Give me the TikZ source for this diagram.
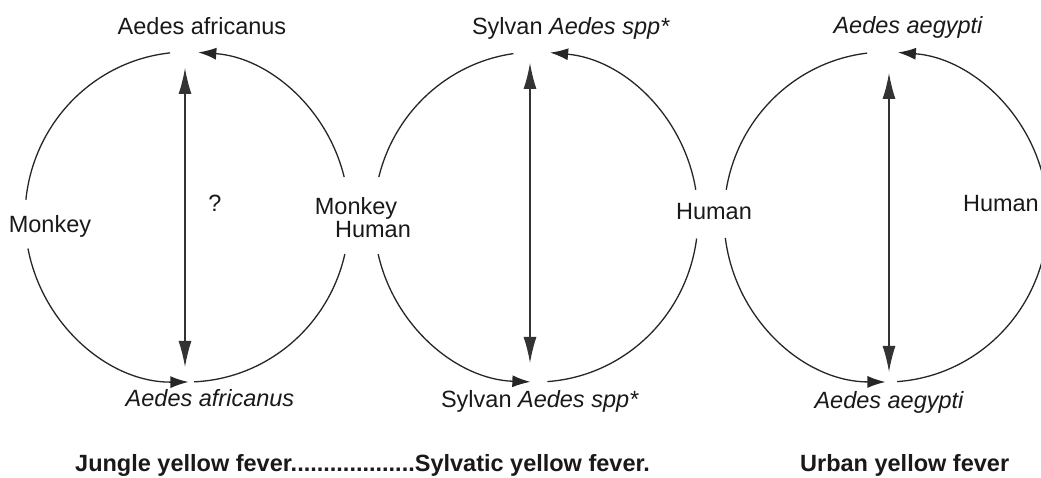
\documentclass[tikz,border=0pt]{standalone}
\usepackage{fontspec}
\setmainfont{Liberation Sans}
\usetikzlibrary{arrows.meta}
\tikzset{
  lbl/.style={inner sep=0pt, text=black!90, font=\fontsize{23.5}{28}\selectfont, anchor=base},
  ttl/.style={inner sep=0pt, text=black!90, font=\fontsize{23.5}{28}\selectfont\bfseries, anchor=base west},
  arcline/.style={line width=1.3pt, draw=black!85},
  arcarrow/.style={arcline, -{Latex[length=18pt,width=12pt]}},
  vert/.style={line width=1.3pt, draw=black!80, {Latex[length=26pt,width=13pt]}-{Latex[length=26pt,width=13pt]}},
  ell/.style={x radius=162pt, y radius=165pt}
}
\begin{document}
\begin{tikzpicture}[x=1pt,y=1pt]
\useasboundingbox (0,0) rectangle (1041,478);
\clip (0,0) rectangle (1041,478);

% circle centres
\coordinate (c1) at (187,261);
\coordinate (c2) at (536,261);
\coordinate (c3) at (886,261);

% labels
\node[lbl] (a1t) at (202,443) {Aedes africanus};
\node[lbl] (a1b) at (210,71) {\itshape Aedes africanus};
\node[lbl] (q1) at (215,266) {?};
\node[lbl] (mk1) at (50,245) {Monkey};
\node[lbl] (mk2) at (356,263) {Monkey};
\node[lbl] (hu2) at (373,240) {Human};
\node[lbl] (hu3) at (714,258) {Human};
\node[lbl,anchor=base east] (hu4) at (1039,266) {Human};
\node[lbl] (a2t) at (571,443) {Sylvan \textit{Aedes spp*}};
\node[lbl] (a2b) at (540,70) {Sylvan \textit{Aedes spp*}};
\node[lbl] (a3t) at (908,444) {\itshape Aedes aegypti};
\node[lbl] (a3b) at (889,69) {\itshape Aedes aegypti};
\node[ttl] (t1) at (75,6) {Jungle yellow fever...................Sylvatic yellow fever.};
\node[ttl] (t3) at (800,6) {Urban yellow fever};

% circle 1
\draw[arcline] (c1) ++(174:162pt and 165pt) arc[start angle=174,end angle=96,ell];
\draw[arcarrow] (c1) ++(14:162pt and 165pt) arc[start angle=14,end angle=86,ell];
\draw[arcarrow] (c1) ++(191:162pt and 165pt) arc[start angle=191,end angle=270.5,ell];
\draw[arcline] (c1) ++(272.5:162pt and 165pt) arc[start angle=272.5,end angle=347,ell];

% circle 2
\draw[arcline] (c2) ++(166:162pt and 165pt) arc[start angle=166,end angle=98,ell];
\draw[arcarrow] (c2) ++(9.5:162pt and 165pt) arc[start angle=9.5,end angle=85,ell];
\draw[arcarrow] (c2) ++(193:162pt and 165pt) arc[start angle=193,end angle=268,ell];
\draw[arcline] (c2) ++(274:162pt and 165pt) arc[start angle=274,end angle=352.5,ell];

% circle 3
\draw[arcline] (c3) ++(170.5:162pt and 165pt) arc[start angle=170.5,end angle=96.7,ell];
\draw[arcarrow] (c3) ++(14:162pt and 165pt) arc[start angle=14,end angle=85.8,ell];
\draw[arcarrow] (c3) ++(187.3:162pt and 165pt) arc[start angle=187.3,end angle=269.8,ell];
\draw[arcline] (c3) ++(273.9:162pt and 165pt) arc[start angle=273.9,end angle=346,ell];

% vertical double arrows
\coordinate (v1t) at (185,410);
\coordinate (v1b) at (185,111);
\coordinate (v2t) at (530,415);
\coordinate (v2b) at (530,115);
\coordinate (v3t) at (889,405);
\coordinate (v3b) at (889,106);
\draw[vert] (v1b) -- (v1t);
\draw[vert] (v2b) -- (v2t);
\draw[vert] (v3b) -- (v3t);
\end{tikzpicture}
\end{document}
